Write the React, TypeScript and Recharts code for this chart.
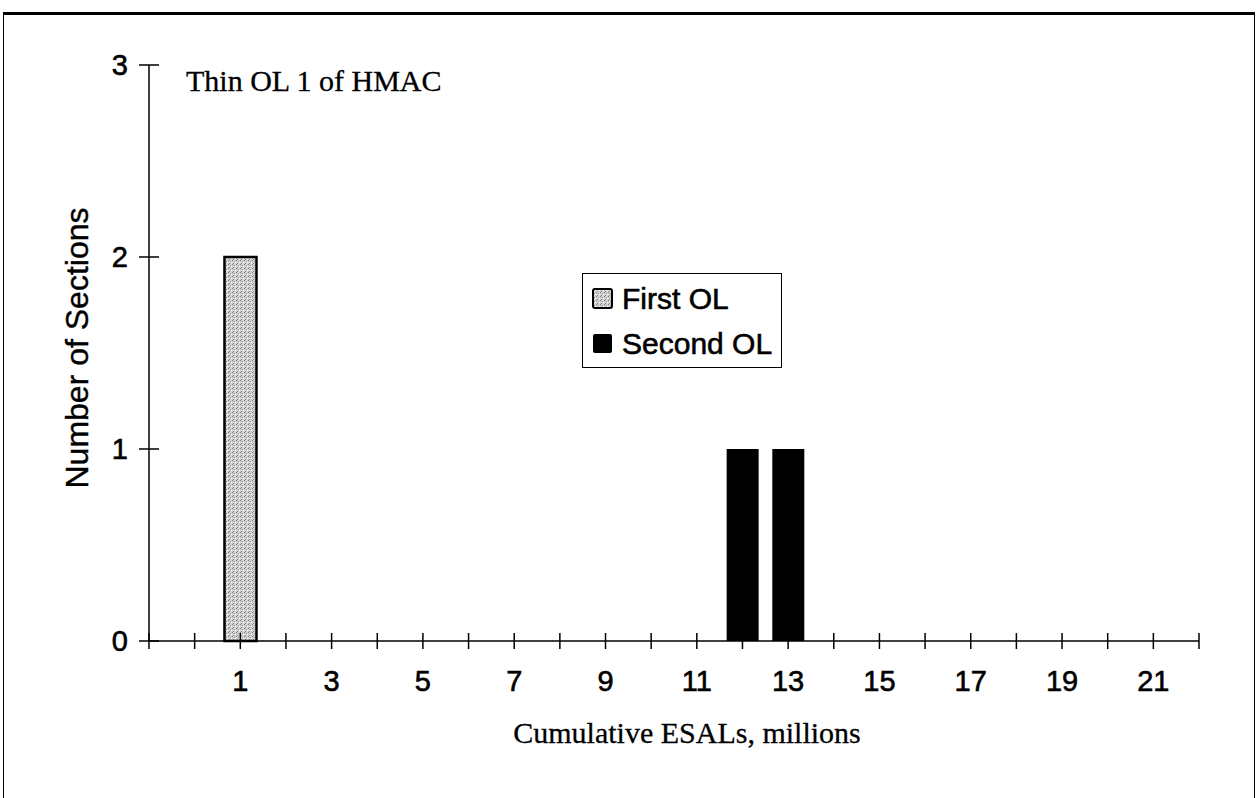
import { BarChart, Bar, XAxis, YAxis, Legend } from "recharts";

// cumulative ESALs (millions) where sections failed
const esals = [1, 12, 13];
const firstOL = [2, 0, 0];
const secondOL = [0, 1, 1];

const xTicks = [-1, 0, 1, 2, 3, 4, 5, 6, 7, 8, 9, 10, 11, 12, 13, 14, 15, 16, 17, 18, 19, 20, 21, 22];
const xLabels = [1, 3, 5, 7, 9, 11, 13, 15, 17, 19, 21];
const yTicks = [0, 1, 2, 3];

const SANS = "'Liberation Sans', Arial, sans-serif";
const SERIF = "'Liberation Serif', 'Times New Roman', serif";

const data = esals.map((x, i) => ({ x, first: firstOL[i], second: secondOL[i] }));

function XTick({ x, y, payload }: any) {
  const v = payload.value;
  return (
    <g>
      <line x1={x} x2={x} y1={y - 8} y2={y + 8} stroke="#000" strokeWidth={1.5} />
      {xLabels.includes(v) && (
        <text
          x={x}
          y={y + 50}
          textAnchor="middle"
          fontSize={29}
          fontFamily={SANS}
          fill="#000"
          stroke="#000"
          strokeWidth={0.6}
        >
          {v}
        </text>
      )}
    </g>
  );
}

function YTick({ x, y, payload }: any) {
  return (
    <g>
      <line x1={x - 10} x2={x + 10} y1={y} y2={y} stroke="#000" strokeWidth={1.5} />
      <text
        x={x - 21}
        y={y}
        dy="0.35em"
        textAnchor="end"
        fontSize={29}
        fontFamily={SANS}
        fill="#000"
        stroke="#000"
        strokeWidth={0.6}
      >
        {payload.value}
      </text>
    </g>
  );
}

function XTitle({ viewBox }: any) {
  if (!viewBox) return null;
  return (
    <text
      x={viewBox.x + viewBox.width / 2 + 13}
      y={viewBox.y + 102}
      textAnchor="middle"
      fontSize={30}
      fontFamily={SERIF}
      fill="#000"
      stroke="#000"
      strokeWidth={0.3}
    >
      Cumulative ESALs, millions
    </text>
  );
}

function YTitle({ viewBox }: any) {
  if (!viewBox) return null;
  const cx = viewBox.x + viewBox.width - 72;
  const cy = viewBox.y + viewBox.height / 2 - 5;
  return (
    <text
      x={cx}
      y={cy}
      dy="0.35em"
      transform={`rotate(-90 ${cx} ${cy})`}
      textAnchor="middle"
      fontSize={32}
      fontFamily={SANS}
      fill="#000"
      stroke="#000"
      strokeWidth={0.4}
    >
      Number of Sections
    </text>
  );
}

function LegendBox() {
  const row = (label: string, swatch: any) => (
    <div style={{ display: "flex", alignItems: "center", height: 45 }}>
      {swatch}
      <span
        style={{
          marginLeft: 9,
          fontSize: 30,
          fontFamily: SANS,
          color: "#000",
          lineHeight: 1,
          WebkitTextStroke: "0.6px #000",
        }}
      >
        {label}
      </span>
    </div>
  );
  return (
    <div
      style={{
        width: 200,
        height: 95,
        boxSizing: "border-box",
        border: "1.5px solid #000",
        background: "#fff",
        paddingLeft: 9,
        paddingTop: 2,
      }}
    >
      {row(
        "First OL",
        <svg width={21} height={21}>
          <rect x={1} y={1} width={19} height={19} rx={2} fill="url(#stipple)" stroke="#000" strokeWidth={2} />
        </svg>
      )}
      {row(
        "Second OL",
        <svg width={21} height={21}>
          <rect x={1} y={1} width={19} height={19} rx={2} fill="#000" />
        </svg>
      )}
    </div>
  );
}

export default function App() {
  return (
    <div style={{ position: "absolute", left: 0, top: 0, width: 1260, height: 798, background: "#fff", overflow: "hidden" }}>
      <div
        style={{
          position: "absolute",
          left: 3,
          top: 12,
          width: 1252,
          height: 820,
          boxSizing: "border-box",
          borderTop: "3px solid #000",
          borderLeft: "1.5px solid #000",
          borderRight: "1.5px solid #000",
        }}
      />
      <BarChart
        width={1260}
        height={798}
        data={data}
        margin={{ top: 65, right: 61, bottom: 97, left: 89 }}
        style={{ position: "absolute", left: 0, top: 0 }}
      >
        <defs>
          <pattern id="stipple" width={4} height={4} patternUnits="userSpaceOnUse">
            <rect width={4} height={4} fill="#d2d2d2" />
            <rect x={0} y={0} width={1} height={1} fill="#7a7a7a" />
            <rect x={2} y={1} width={1} height={1} fill="#9a9a9a" />
            <rect x={1} y={3} width={1} height={1} fill="#8a8a8a" />
            <rect x={3} y={2} width={1} height={1} fill="#ffffff" />
          </pattern>
        </defs>
        <XAxis
          dataKey="x"
          type="number"
          domain={[-1, 22]}
          ticks={xTicks}
          interval={0}
          allowDataOverflow
          height={60}
          tickSize={0}
          tickMargin={0}
          tickLine={false}
          axisLine={{ stroke: "#000", strokeWidth: 1.5 }}
          tick={<XTick />}
          label={<XTitle />}
        />
        <YAxis
          type="number"
          domain={[0, 3]}
          ticks={yTicks}
          interval={0}
          width={60}
          tickSize={0}
          tickMargin={0}
          tickLine={false}
          axisLine={{ stroke: "#000", strokeWidth: 1.5 }}
          tick={<YTick />}
          label={<YTitle />}
        />
        <Legend
          layout="horizontal"
          verticalAlign="middle"
          align="center"
          content={() => <LegendBox />}
          wrapperStyle={{ left: 582, top: 273, width: 200, height: 95 }}
        />
        <Bar
          dataKey="first"
          name="First OL"
          stackId="a"
          barSize={32}
          fill="url(#stipple)"
          stroke="#000"
          strokeWidth={2.5}
          isAnimationActive={false}
        />
        <Bar
          dataKey="second"
          name="Second OL"
          stackId="a"
          barSize={32}
          fill="#000"
          isAnimationActive={false}
        />
      </BarChart>
      <div
        style={{
          position: "absolute",
          left: 186,
          top: 66,
          fontSize: 30,
          fontFamily: SERIF,
          lineHeight: "30px",
          color: "#000",
          whiteSpace: "nowrap",
          WebkitTextStroke: "0.3px #000",
        }}
      >
        Thin OL 1 of HMAC
      </div>
    </div>
  );
}
